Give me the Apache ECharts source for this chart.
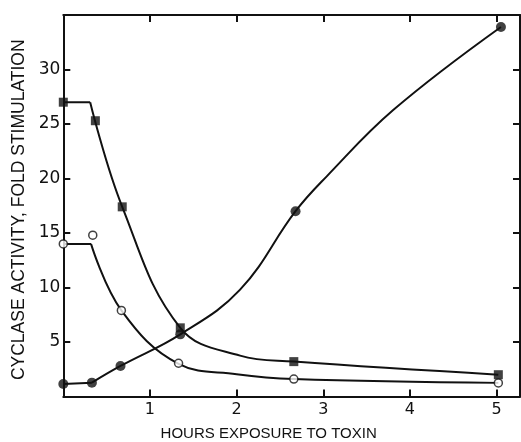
<!DOCTYPE html>
<html>
<head>
    <meta charset="UTF-8"/>
    <title>Cyclase activity</title>
    <script src="https://cdn.jsdelivr.net/npm/echarts@6/dist/echarts.min.js"></script>
    <style>
        html, body {margin: 0; padding: 0; background: #fff;}
        #chart {width: 521px; height: 442px;}
    </style>
</head>
<body>
<div id="chart"></div>
<script type="text/javascript">
    // measured points [hours, fold stimulation]
    var squarePts = [[0, 27], [0.37, 25.3], [0.68, 17.4], [1.35, 6.3], [2.66, 3.2], [5.02, 2.0]];
    var openPts = [[0, 14], [0.34, 14.8], [0.67, 7.9], [1.33, 3.05], [2.66, 1.6], [5.02, 1.25]];
    var filledPts = [[0, 1.15], [0.33, 1.27], [0.66, 2.8], [1.35, 5.7], [2.68, 17.0], [5.05, 33.9]];

    // hand drawn curves: a straight start, then the smooth part
    var squareFlat = [[0, 27], [0.31, 27]];
    var squareCurve = [[0.31, 27], [0.68, 17.4], [1.35, 6.3], [2.04, 3.75], [2.66, 3.2], [5.02, 2.0]];
    var openFlat = [[0, 14], [0.32, 14]];
    var openCurve = [[0.32, 14], [0.67, 7.9], [1.33, 3.0], [2.0, 2.05], [2.66, 1.6], [5.02, 1.25]];
    var filledFlat = [[0, 1.15], [0.33, 1.27]];
    var filledCurve = [[0.33, 1.27], [0.66, 2.8], [1.35, 5.7], [2.04, 9.8], [2.68, 17.0], [3.04, 20.2],
        [3.81, 26.3], [5.05, 33.9]];

    var xTicks = [1, 2, 3, 4, 5];
    var yTicks = [5, 10, 15, 20, 25, 30];

    var ink = "#111";
    var font = "Liberation Sans";
    var numFont = "DejaVu Sans";

    var chart = echarts.init(document.getElementById("chart"));

    function axisBase(extra) {
        var a = {
            type: "value",
            axisLine: {show: true, onZero: false, lineStyle: {color: ink, width: 2}},
            axisTick: {show: true, inside: true, length: 7, lineStyle: {color: ink, width: 2}},
            splitLine: {show: false},
            axisLabel: {show: false}
        };
        for (var k in extra) a[k] = extra[k];
        return a;
    }

    function curve(data, smooth) {
        return {
            type: "line", data: data, smooth: smooth,
            showSymbol: false, symbol: "none", silent: true,
            lineStyle: {color: ink, width: 2}, z: 2
        };
    }

    chart.setOption({
        animation: false,
        backgroundColor: "#fff",
        grid: {left: 63.3, right: 1, top: 15, bottom: 45.5, containLabel: false, outerBoundsMode: "none"},
        xAxis: [
            axisBase({
                min: 0, max: 5.27, interval: 1, position: "bottom",
                name: "HOURS EXPOSURE TO TOXIN", nameLocation: "middle", nameGap: 30,
                nameTextStyle: {color: ink, fontFamily: font, fontSize: 15, padding: [0, 46, 0, 0]},
                axisLabel: {
                    show: true, color: ink, fontFamily: numFont, fontSize: 16, margin: 5,
                    formatter: function (v) { return xTicks.indexOf(v) >= 0 ? String(v) : ""; }
                }
            }),
            axisBase({min: 0, max: 5.27, interval: 1, position: "top"})
        ],
        yAxis: [
            axisBase({
                min: 0, max: 35, interval: 5, position: "left",
                name: "CYCLASE ACTIVITY, FOLD STIMULATION", nameLocation: "middle", nameGap: 33,
                nameTextStyle: {color: ink, fontFamily: font, fontSize: 17.5, padding: [0, 8, 0, 0]},
                axisLabel: {
                    show: true, color: ink, fontFamily: numFont, fontSize: 17, margin: 3,
                    formatter: function (v) { return yTicks.indexOf(v) >= 0 ? String(v) : ""; }
                }
            }),
            axisBase({min: 0, max: 35, interval: 5, position: "right"})
        ],
        series: [
            curve(squareFlat, false),
            curve(squareCurve, 0.4),
            curve(openFlat, false),
            curve(openCurve, 0.4),
            curve(filledFlat, false),
            curve(filledCurve, 0.4),
            {
                type: "scatter", data: squarePts, symbol: "rect", symbolSize: 9,
                itemStyle: {color: ink}, z: 3
            },
            {
                type: "scatter", data: openPts, symbol: "circle", symbolSize: 8,
                itemStyle: {color: "#fff", borderColor: ink, borderWidth: 1.5}, z: 3
            },
            {
                type: "scatter", data: filledPts, symbol: "circle", symbolSize: 10,
                itemStyle: {color: ink}, z: 3
            }
        ]
    });
</script>
</body>
</html>
